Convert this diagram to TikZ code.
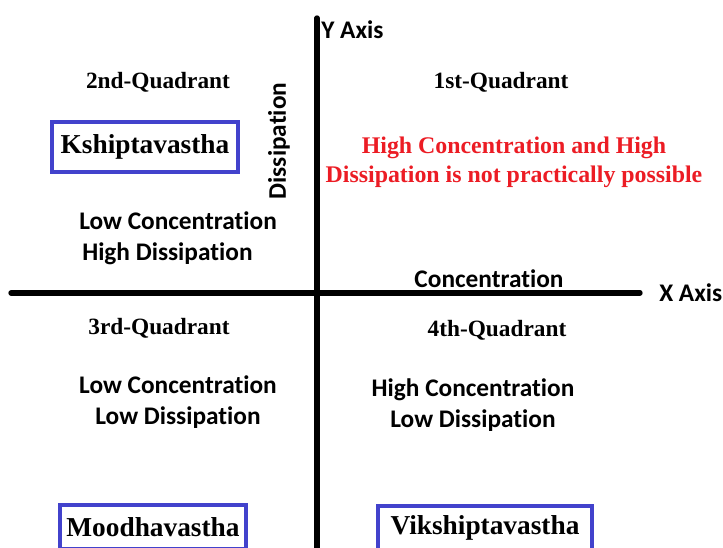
\documentclass[tikz,border=0pt]{standalone}
\usepackage{fontspec}
\setmainfont{Liberation Serif}
\newfontfamily\carl[Ligatures=NoCommon]{Carlito}
\definecolor{boxblue}{RGB}{66,66,204}
\definecolor{redtxt}{RGB}{236,28,36}
\begin{document}
\begin{tikzpicture}[x=0.75pt,y=-0.75pt,
  quad/.style={font=\fontsize{17.5}{20}\selectfont\bfseries, inner sep=0pt},
  desc/.style={font=\carl\fontsize{19}{23.25}\selectfont\bfseries, align=center, inner sep=0pt},
  state/.style={draw=boxblue, line width=4.5pt*0.75, inner sep=0pt, font=\fontsize{20.5}{24}\selectfont\bfseries},
  axis/.style={line width=4pt, line cap=round}]
\useasboundingbox (0,0) rectangle (723,548);
\fill[white] (0,0) rectangle (723,548);
% axes
\coordinate (yt) at (317,18);
\coordinate (yb) at (317,560);
\coordinate (xl) at (11,293);
\coordinate (xr) at (640,293);
\draw[axis] (yt) -- (yb);
\draw[axis] (xl) -- (xr);
\node[desc, anchor=west] (ylab) at (321,30) {Y Axis};
\node[desc, anchor=west] (xlab) at (659,293) {X Axis};
\node[desc] (conc) at (489,279) {Concentration};
\node[desc, rotate=90] (diss) at (279,141) {Dissipation};
% quadrant labels
\node[quad] (q2) at (158,82) {2nd-Quadrant};
\node[quad] (q1) at (501,82) {1st-Quadrant};
\node[quad] (q3) at (159,328) {3rd-Quadrant};
\node[quad] (q4) at (497,330) {4th-Quadrant};
% descriptions
\node[font=\fontsize{17.9}{21.75}\selectfont\bfseries, text=redtxt, align=center, inner sep=0pt] (red) at (514,162) {High Concentration and High\\Dissipation is not practically possible};
\node[desc, align=left, anchor=west] (d2) at (79,238) {Low Concentration\\\hspace*{2.25pt}High Dissipation};
\node[desc] (d3) at (178,402) {Low Concentration\\Low Dissipation};
\node[desc] (d4) at (473,405) {High Concentration\\Low Dissipation};
% states
\node[state, minimum width=186*0.75pt, minimum height=50*0.75pt] (k) at (145,147) {Kshiptavastha};
\node[state, minimum width=186*0.75pt, minimum height=44*0.75pt] (m) at (153,527) {Moodhavastha};
\node[state, minimum width=214*0.75pt, minimum height=44*0.75pt] (v) at (485,528) {Vikshiptavastha};
\end{tikzpicture}
\end{document}
